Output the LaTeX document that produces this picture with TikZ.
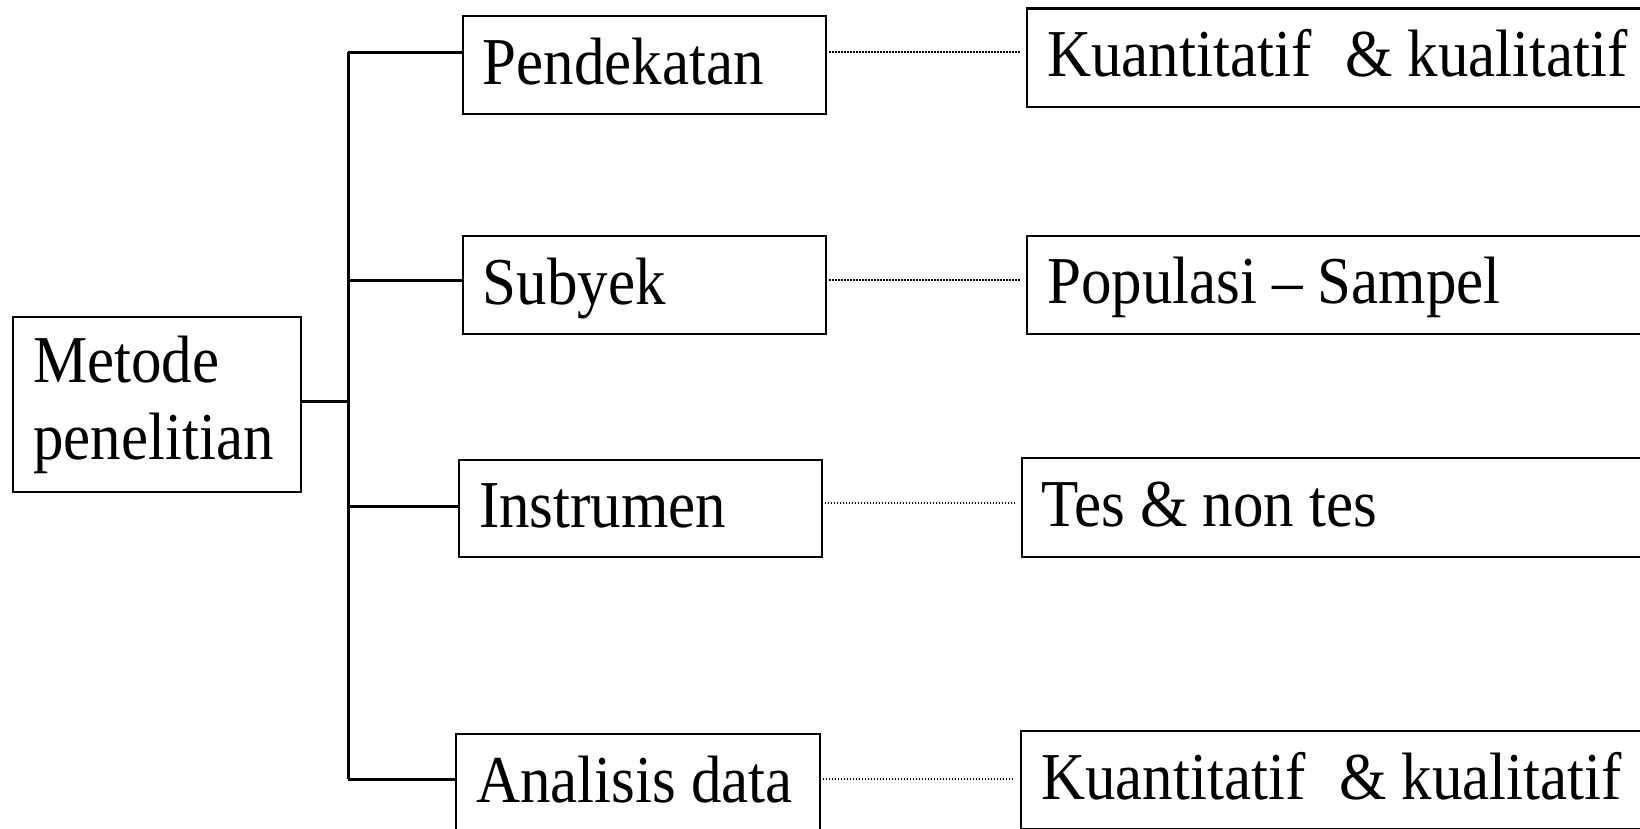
\documentclass[tikz,border=0pt]{standalone}
\usepackage{fontspec}
\setmainfont[FakeStretch=0.91]{Liberation Serif}
\newcommand\gp{\hspace{15pt}}
\begin{document}
\begin{tikzpicture}[x=1pt,y=-1pt,
  box/.style={draw, line width=2.3pt, rectangle, anchor=north west,
    inner xsep=20pt, inner ysep=0pt, align=left,
    font=\fontsize{67}{77}\selectfont},
  one/.style={text height=44pt, text depth=6pt},
  link/.style={line width=3pt},
  dots/.style={line width=2pt, dash pattern=on 1.5pt off 1.5pt,
    shorten <=2pt, shorten >=6pt}]
\useasboundingbox (0,0) rectangle (1640,829);
\clip (0,0) rectangle (1640,829);
% left node
\node[box, text width=248pt, minimum height=175pt] (M) at (12,316) {Metode\\penelitian};
% middle nodes
\node[box, one, text width=323.5pt, minimum height=98pt] (P) at (461.5,15) {Pendekatan};
\node[box, one, text width=323.5pt, minimum height=98pt] (S) at (461.5,235) {Subyek};
\node[box, one, text width=322.5pt, minimum height=97pt] (I) at (458,459) {Instrumen};
\node[box, one, text width=323.5pt, minimum height=98pt] (A) at (455,733) {Analisis\gp data};
% right nodes
\node[box, one, text width=660pt, minimum height=98.5pt] (K1) at (1026,7.5) {Kuantitatif\hspace{34pt}\&\gp kualitatif};
\node[box, one, text width=660pt, minimum height=98.5pt] (R2) at (1026,234.5) {Populasi\gp --\gp Sampel};
\node[box, one, text width=660pt, minimum height=99pt] (T) at (1020.5,457) {Tes\gp \&\gp non\gp tes};
\node[box, one, text width=660pt, minimum height=98pt] (K2) at (1020,730) {Kuantitatif\hspace{34pt}\&\gp kualitatif};
% trunk
\coordinate (t0) at (348,401);
\coordinate (t1) at (348,52.5);
\coordinate (t2) at (348,280);
\coordinate (t3) at (348,506);
\coordinate (t4) at (348,779);
\draw[link] (t1) -- (t4);
\draw[link] (M.east |- t0) -- (t0);
\draw[link] (t1) -- (t1 -| P.west);
\draw[link] (t2) -- (t2 -| S.west);
\draw[link] (t3) -- (t3 -| I.west);
\draw[link] (t4) -- (t4 -| A.west);
% dotted links
\draw[dots] (P.east |- 0,52) -- (K1.west |- 0,52);
\draw[dots] (S.east |- 0,280) -- (R2.west |- 0,280);
\draw[dots] (I.east |- 0,503) -- (T.west |- 0,503);
\draw[dots] (A.east |- 0,779) -- (K2.west |- 0,779);
\end{tikzpicture}
\end{document}
